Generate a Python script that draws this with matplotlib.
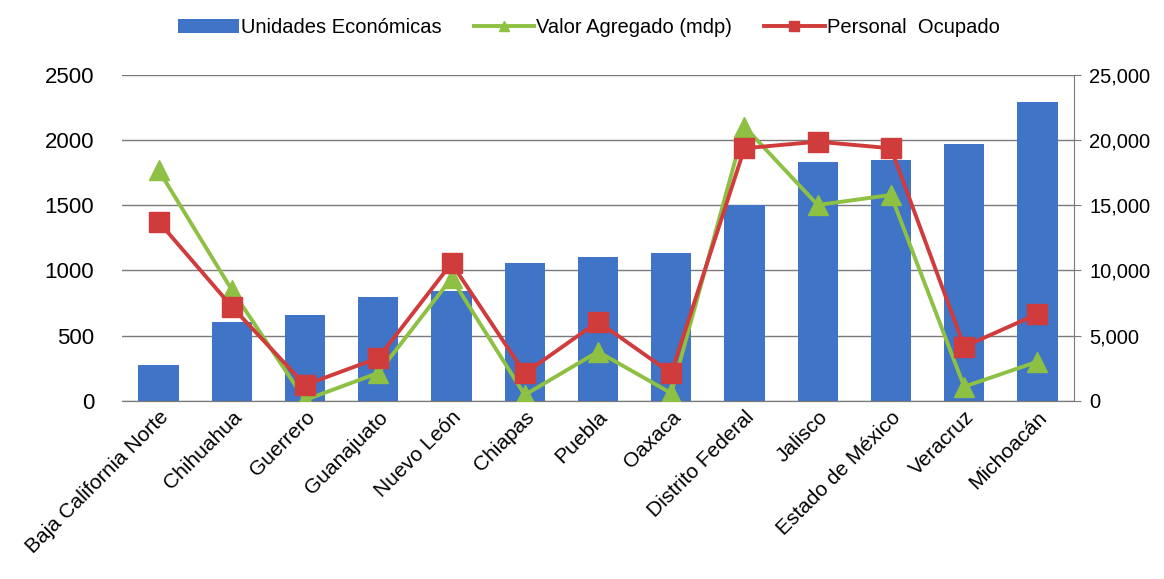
import numpy as np
import matplotlib
matplotlib.use("Agg")
import matplotlib.pyplot as plt

plt.rcParams['font.family'] = ['Liberation Sans', 'DejaVu Sans']

estados = ["Baja California Norte", "Chihuahua", "Guerrero", "Guanajuato",
           "Nuevo León", "Chiapas", "Puebla", "Oaxaca", "Distrito Federal",
           "Jalisco", "Estado de México", "Veracruz", "Michoacán"]
unidades = [274, 602, 658, 793, 842, 1054, 1105, 1131, 1500, 1831, 1846, 1969, 2292]
valor_agregado = [17700, 8500, 50, 2130, 9400, 440, 3760, 570, 21030, 15020, 15790, 1075, 2990]
personal = [13740, 7215, 1205, 3280, 10545, 2100, 6064, 2100, 19374, 19880, 19374, 4145, 6655]

blue = "#3F74C6"
green = "#8DC043"
red = "#D03B3B"

fig = plt.figure(figsize=(11.64, 5.79), dpi=100)
ax = fig.add_axes([0.1048, 0.308, 0.8179, 0.5625])
ax2 = ax.twinx()

x = np.arange(len(estados))
bars = ax.bar(x, unidades, width=0.55, color=blue, zorder=2, label="Unidades Económicas")
ax.set_ylim(0, 2500)
ax.set_yticks(np.arange(0, 2501, 500))
ax.set_xlim(-0.5, len(estados) - 0.5)
ax.yaxis.grid(True, color="#7a7a7a", linewidth=1.0, zorder=0)
ax.set_axisbelow(True)
ax.tick_params(axis="y", length=0, labelsize=16, pad=20)
ax.tick_params(axis="x", length=0, labelsize=15, pad=5)
ax.set_xticks(x)
ax.set_xticklabels(estados, rotation=45, ha="right", rotation_mode="anchor")

l1, = ax2.plot(x, valor_agregado, color=green, linewidth=2.8, marker="^",
               markersize=15, label="Valor Agregado (mdp)", zorder=3)
l2, = ax2.plot(x, personal, color=red, linewidth=2.8, marker="s",
               markersize=14, label="Personal  Ocupado", zorder=4)
ax2.set_ylim(0, 25000)
ax2.set_yticks(np.arange(0, 25001, 5000))
ax2.set_yticklabels([f"{v:,}" for v in range(0, 25001, 5000)])
ax2.tick_params(axis="y", labelsize=14.5, length=5, color="#7a7a7a", pad=6)

for a in (ax, ax2):
    a.spines["top"].set_visible(False)
    a.spines["left"].set_visible(False)
    a.spines["right"].set_visible(False)
    a.spines["bottom"].set_color("#7a7a7a")
ax2.spines["right"].set_visible(True)
ax2.spines["right"].set_color("#7a7a7a")

fig.legend(handles=[bars, l1, l2], loc="upper center", bbox_to_anchor=(0.506, 1.0),
           ncol=3, frameon=False, fontsize=14.5, handlelength=3.0, handletextpad=0.1,
           columnspacing=1.6, markerscale=0.5)

fig.savefig("out.png", dpi=100)
